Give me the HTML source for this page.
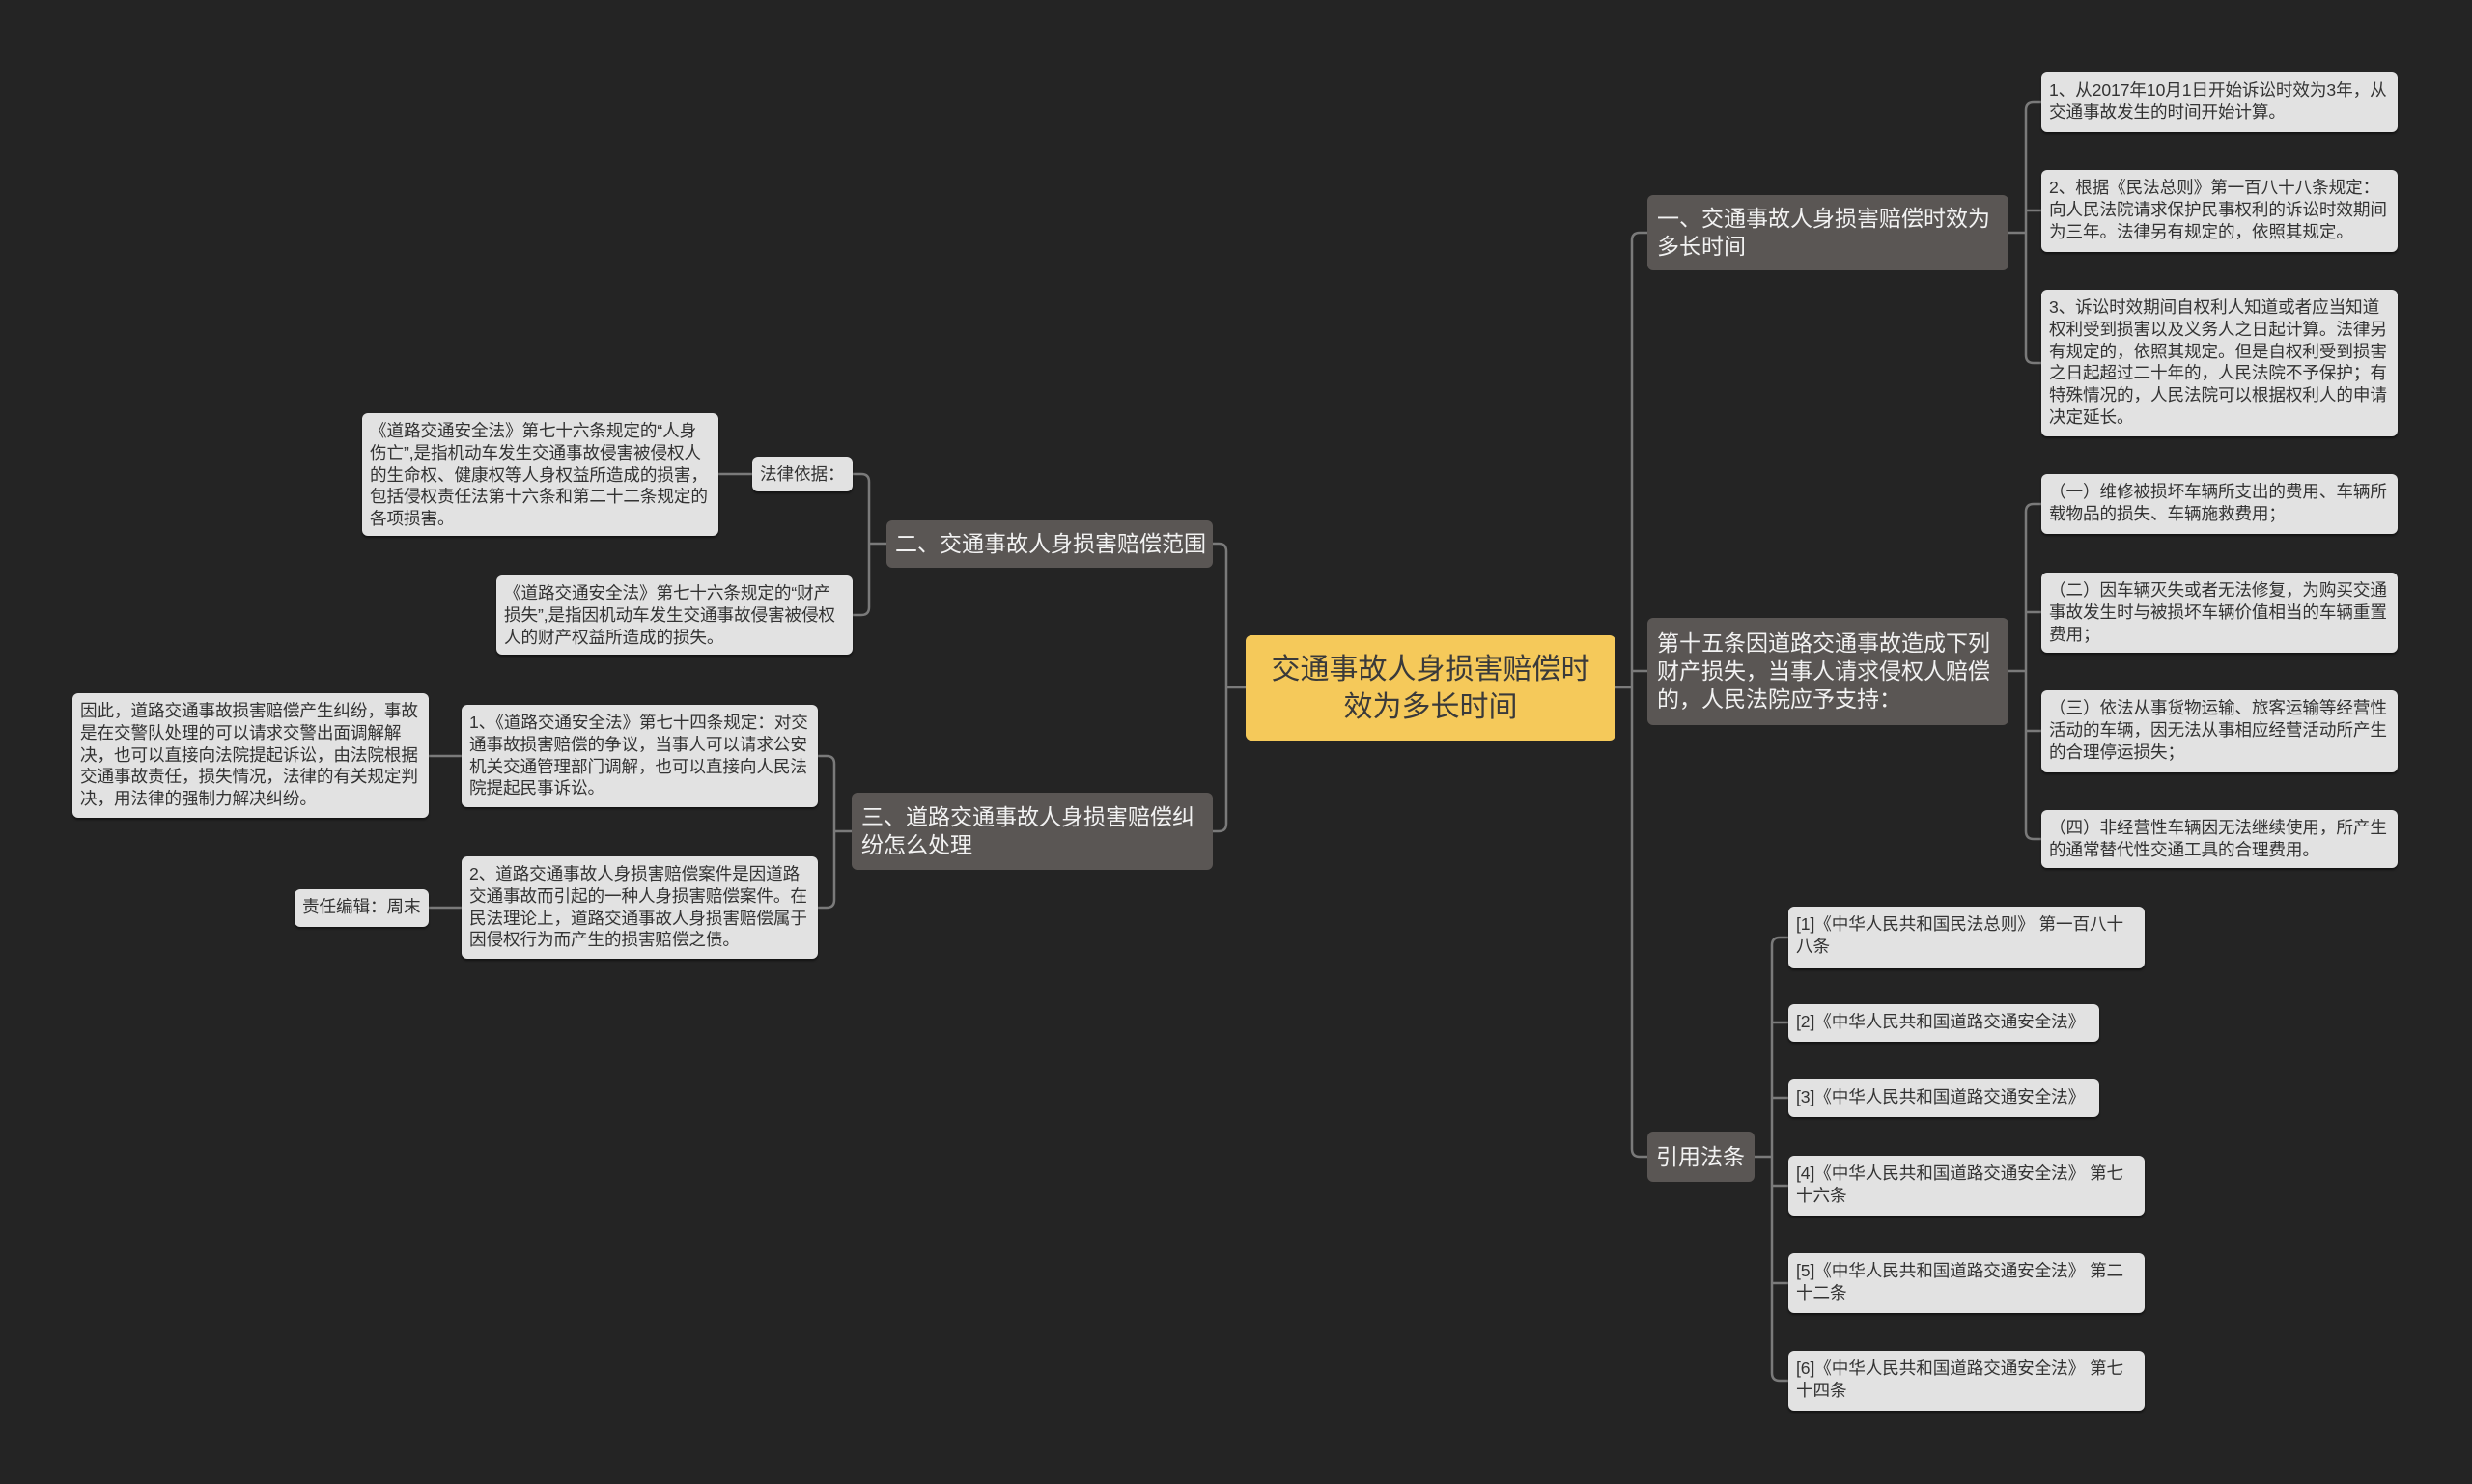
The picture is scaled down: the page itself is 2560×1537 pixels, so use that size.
<!DOCTYPE html>
<html><head><meta charset="utf-8">
<style>
html,body{margin:0;padding:0;background:#242424;}
#c{position:relative;width:2560px;height:1537px;background:#242424;overflow:hidden;font-family:"Liberation Sans","Noto Sans CJK SC",sans-serif;}
.n{position:absolute;box-sizing:border-box;border-radius:6px;}
.leaf{background:#e2e2e2;color:#333;font-size:17.6px;line-height:22.8px;padding:7px 7px 6px 8px;box-shadow:0 2px 2px rgba(0,0,0,.5);letter-spacing:-0.1px;}
.br{background:#5a5654;color:#f2f2f2;font-size:23px;line-height:29px;padding:8px 10px;display:flex;align-items:center;}
.nw{white-space:nowrap;padding:8px 9px;}
.ctr{background:#f5c95a;color:#3a3a3a;font-size:30px;line-height:39px;text-align:center;display:flex;align-items:center;justify-content:center;padding:0 18px;}
svg{position:absolute;left:0;top:0;}
</style></head><body><div id="c">
<svg width="2560" height="1537" fill="none" stroke="#7a7a7a" stroke-width="2.5">
<path d="M1673 712 H1690 M1690 249 V1190 Q1690 1198 1698 1198 H1706 M1690 249 Q1690 241 1698 241 H1706 M1690 695 H1706"/>
<path d="M1290 712 H1270 M1270 571 V853 M1270 571 Q1270 563 1262 563 H1256 M1270 853 Q1270 861 1262 861 H1256"/>
<path d="M2080 241 H2098 M2098 114 V368 M2098 114 Q2098 106 2106 106 H2114 M2098 218 H2114 M2098 368 Q2098 376 2106 376 H2114"/>
<path d="M2080 695 H2098 M2098 530 V861 M2098 530 Q2098 522 2106 522 H2114 M2098 634 H2114 M2098 757 H2114 M2098 861 Q2098 869 2106 869 H2114"/>
<path d="M1817 1198 H1835 M1835 979 V1422 M1835 979 Q1835 971 1843 971 H1852 M1835 1059 H1852 M1835 1137 H1852 M1835 1228 H1852 M1835 1329 H1852 M1835 1422 Q1835 1430 1843 1430 H1852"/>
<path d="M918 563 H900 M900 499 V629 M900 499 Q900 491 892 491 H883 M900 629 Q900 637 892 637 H883 M779 491 H744"/>
<path d="M882 861 H864 M864 791 V932 M864 791 Q864 783 856 783 H847 M864 932 Q864 940 856 940 H847 M478 783 H444 M478 940 H444"/>
</svg>

<div class="n ctr" style="left:1290px;top:658px;width:383px;height:109px;">交通事故人身损害赔偿时效为多长时间</div>

<div class="n br" style="left:1706px;top:202px;width:374px;height:78px;">一、交通事故人身损害赔偿时效为多长时间</div>
<div class="n br" style="left:1706px;top:640px;width:374px;height:111px;">第十五条因道路交通事故造成下列财产损失，当事人请求侵权人赔偿的，人民法院应予支持：</div>
<div class="n br nw" style="left:1706px;top:1172px;width:111px;height:52px;">引用法条</div>
<div class="n br nw" style="left:918px;top:539px;width:338px;height:49px;">二、交通事故人身损害赔偿范围</div>
<div class="n br" style="left:882px;top:821px;width:374px;height:80px;">三、道路交通事故人身损害赔偿纠纷怎么处理</div>

<div class="n leaf" style="left:2114px;top:75px;width:369px;height:62px;">1、从2017年10月1日开始诉讼时效为3年，从交通事故发生的时间开始计算。</div>
<div class="n leaf" style="left:2114px;top:176px;width:369px;height:85px;">2、根据《民法总则》第一百八十八条规定：向人民法院请求保护民事权利的诉讼时效期间为三年。法律另有规定的，依照其规定。</div>
<div class="n leaf" style="left:2114px;top:300px;width:369px;height:152px;">3、诉讼时效期间自权利人知道或者应当知道权利受到损害以及义务人之日起计算。法律另有规定的，依照其规定。但是自权利受到损害之日起超过二十年的，人民法院不予保护；有特殊情况的，人民法院可以根据权利人的申请决定延长。</div>
<div class="n leaf" style="left:2114px;top:491px;width:369px;height:62px;">（一）维修被损坏车辆所支出的费用、车辆所载物品的损失、车辆施救费用；</div>
<div class="n leaf" style="left:2114px;top:593px;width:369px;height:83px;">（二）因车辆灭失或者无法修复，为购买交通事故发生时与被损坏车辆价值相当的车辆重置费用；</div>
<div class="n leaf" style="left:2114px;top:715px;width:369px;height:85px;">（三）依法从事货物运输、旅客运输等经营性活动的车辆，因无法从事相应经营活动所产生的合理停运损失；</div>
<div class="n leaf" style="left:2114px;top:839px;width:369px;height:60px;">（四）非经营性车辆因无法继续使用，所产生的通常替代性交通工具的合理费用。</div>

<div class="n leaf" style="left:1852px;top:939px;width:369px;height:64px;">[1]《中华人民共和国民法总则》 第一百八十八条</div>
<div class="n leaf" style="left:1852px;top:1040px;width:322px;height:39px;">[2]《中华人民共和国道路交通安全法》</div>
<div class="n leaf" style="left:1852px;top:1118px;width:322px;height:39px;">[3]《中华人民共和国道路交通安全法》</div>
<div class="n leaf" style="left:1852px;top:1197px;width:369px;height:62px;">[4]《中华人民共和国道路交通安全法》 第七十六条</div>
<div class="n leaf" style="left:1852px;top:1298px;width:369px;height:62px;">[5]《中华人民共和国道路交通安全法》 第二十二条</div>
<div class="n leaf" style="left:1852px;top:1399px;width:369px;height:62px;">[6]《中华人民共和国道路交通安全法》 第七十四条</div>

<div class="n leaf" style="left:779px;top:473px;width:104px;height:36px;white-space:nowrap;">法律依据：</div>
<div class="n leaf" style="left:375px;top:428px;width:369px;height:127px;">《道路交通安全法》第七十六条规定的“人身伤亡”,是指机动车发生交通事故侵害被侵权人的生命权、健康权等人身权益所造成的损害，包括侵权责任法第十六条和第二十二条规定的各项损害。</div>
<div class="n leaf" style="left:514px;top:596px;width:369px;height:82px;">《道路交通安全法》第七十六条规定的“财产损失”,是指因机动车发生交通事故侵害被侵权人的财产权益所造成的损失。</div>
<div class="n leaf" style="left:478px;top:730px;width:369px;height:106px;">1、《道路交通安全法》第七十四条规定：对交通事故损害赔偿的争议，当事人可以请求公安机关交通管理部门调解，也可以直接向人民法院提起民事诉讼。</div>
<div class="n leaf" style="left:75px;top:718px;width:369px;height:129px;">因此，道路交通事故损害赔偿产生纠纷，事故是在交警队处理的可以请求交警出面调解解决，也可以直接向法院提起诉讼，由法院根据交通事故责任，损失情况，法律的有关规定判决，用法律的强制力解决纠纷。</div>
<div class="n leaf" style="left:478px;top:887px;width:369px;height:106px;">2、道路交通事故人身损害赔偿案件是因道路交通事故而引起的一种人身损害赔偿案件。在民法理论上，道路交通事故人身损害赔偿属于因侵权行为而产生的损害赔偿之债。</div>
<div class="n leaf" style="left:305px;top:921px;width:139px;height:39px;white-space:nowrap;">责任编辑：周末</div>
</div></body></html>
